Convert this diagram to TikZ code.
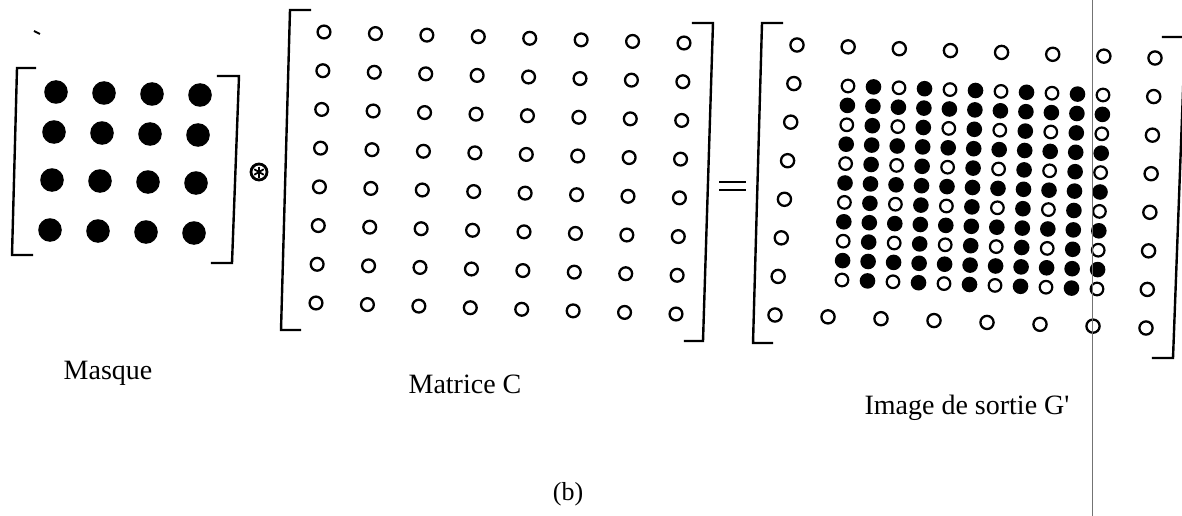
\documentclass[tikz,border=0pt]{standalone}
\usepackage{fontspec}
\setmainfont{Liberation Serif}[Ligatures=TeXOff]
\begin{document}
\begin{tikzpicture}[x=1pt,y=-1pt,
  bracket/.style={line width=2.4pt, line cap=rect, line join=miter},
  hole/.style={draw, line width=2.3pt},
  caption/.style={font=\fontsize{28}{30}\selectfont, anchor=base, inner sep=0pt},
]
\useasboundingbox (0,0) rectangle (1182,516);
\clip (0,0) rectangle (1182,516);

% stray mark at the top left
\draw[line width=2pt] (34,31) -- (40,34);

% ---- mask: 4x4 filled dots ----
\draw[bracket] (35,68) -- (17,68) -- (12,255) -- (32,255);
\draw[bracket] (218,76) -- (239,76) -- (232,263) -- (212,263);
\foreach \r/\ry in {0/92,1/132,2/180,3/230}
  \foreach \c in {0,...,3}
    \fill ({56+48*\c-2*\r},{\ry+1*\c}) circle (11.8pt);

% convolution operator
\begin{scope}[shift={(259,172)}]
  \draw[line width=2.8pt] (0,0) circle (8pt);
  \foreach \a in {90,30,150}
    \draw[line width=1.8pt] (\a:5.5pt) -- (\a+180:5.5pt);
\end{scope}

% ---- matrix C: 8x8 open circles ----
\draw[bracket] (310,10) -- (290,10) -- (281,330) -- (300,330);
\draw[bracket] (693,23) -- (713,23) -- (703,341) -- (685,341);
\foreach \r in {0,...,7}
  \foreach \c in {0,...,7}
    \draw[hole] ({324+\c*360/7-\r*8/7},{32+\r*271/7+\c*11/7}) circle (6.4pt);

% equals sign
\draw[line width=2.4pt] (719,182) -- (746,182);
\draw[line width=2.4pt] (719,190) -- (746,190);

% ---- output image G' ----
\draw[bracket] (782,23) -- (762,23) -- (753,343) -- (772,343);
\draw[bracket] (1163,37) -- (1185,37) -- (1173,358) -- (1153,358);
% border of open circles
\foreach \r in {0,...,7}
  \foreach \c in {0,...,7} {
    \pgfmathtruncatemacro\edge{(\r==0)||(\r==7)||(\c==0)||(\c==7)}
    \ifnum\edge=1
      \pgfmathsetmacro\u{\c/7}
      \pgfmathsetmacro\v{\r/7}
      \draw[hole] ({797+358*\u-22*\v+13*\u*\v},{45+13*\u+270*\v}) circle (6.6pt);
    \fi
  }
% inner 11x11 block
\foreach \j in {0,...,10}
  \foreach \i in {0,...,10} {
    \pgfmathtruncatemacro\isopen{(mod(\j,2)==0)&&(mod(\i,2)==0)}
    \ifnum\isopen=1
      \draw[line width=2.2pt] ({848+\i*25.5-\j*0.6},{86+\j*19.4+\i*0.9}) circle (6.3pt);
    \else
      \fill ({848+\i*25.5-\j*0.6},{86+\j*19.4+\i*0.9}) circle (7.8pt);
    \fi
  }

% thin grey rule
\draw[black!55, line width=0.9pt] (1092,0) -- (1092,516);

% ---- captions ----
\node[caption] (masque) at (108,379) {Masque};
\node[caption] (matc) at (465,393) {Matrice C};
\node[caption] (gout) at (967,414) {Image de sortie G'};
\node[caption, font=\fontsize{26}{28}\selectfont] (sub) at (568,500) {(b)};
\end{tikzpicture}
\end{document}
